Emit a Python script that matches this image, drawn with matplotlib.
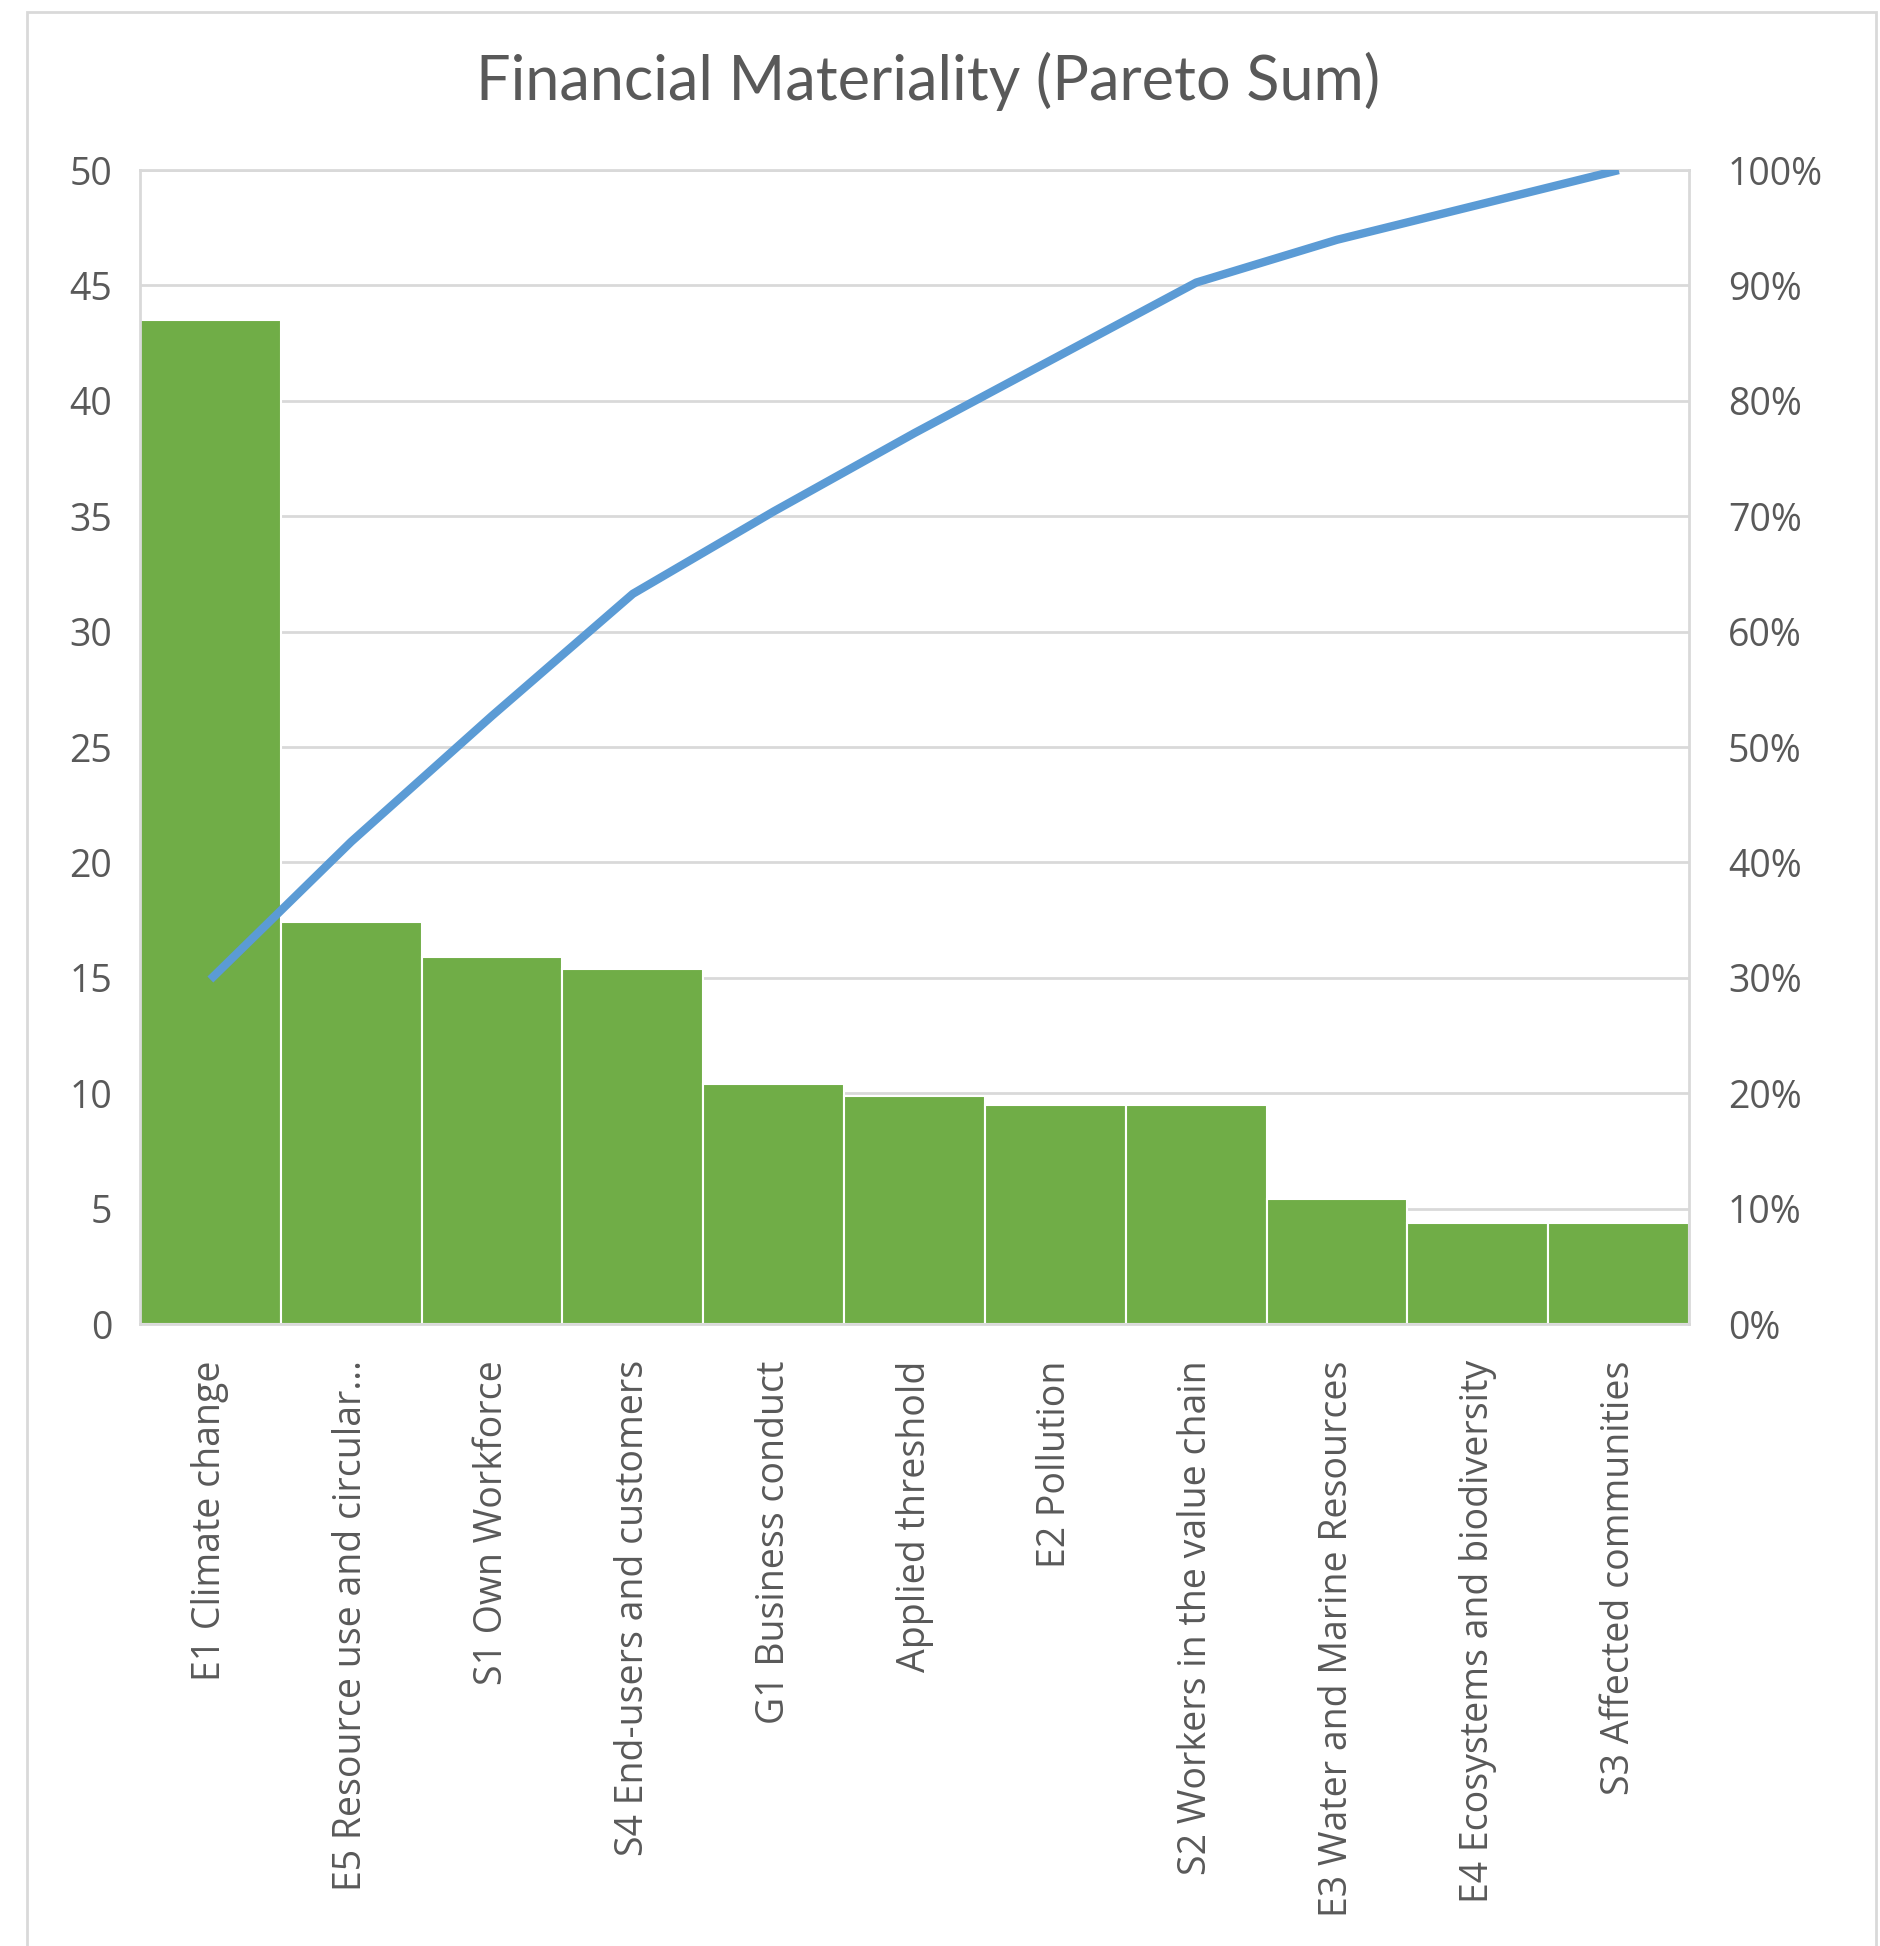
import numpy as np
import matplotlib.pyplot as plt
from matplotlib.ticker import PercentFormatter
from matplotlib.patches import Rectangle

# data
categories = ["E1 Climate change", "E5 Resource use and circular...", "S1 Own Workforce",
              "S4 End-users and customers", "G1 Business conduct", "Applied threshold",
              "E2 Pollution", "S2 Workers in the value chain", "E3 Water and Marine Resources",
              "E4 Ecosystems and biodiversity", "S3 Affected communities"]
values = [43.5, 17.4, 15.9, 15.4, 10.4, 9.9, 9.5, 9.5, 5.4, 4.4, 4.4]
left_ticks = [0, 5, 10, 15, 20, 25, 30, 35, 40, 45, 50]
right_ticks = [0, 10, 20, 30, 40, 50, 60, 70, 80, 90, 100]

cum_pct = np.cumsum(values) / np.sum(values) * 100

txt = '#595959'
plt.rcParams['font.family'] = ['Open Sans', 'DejaVu Sans']

fig = plt.figure(figsize=(18.81, 19.46), dpi=100)
ax = fig.add_axes([0.0744, 0.3196, 0.8236, 0.593])
x = np.arange(len(categories))

ax.bar(x, values, width=1.0, color='#70AD47', edgecolor='white', linewidth=1.5, zorder=2)
ax.set_xlim(-0.5, len(categories) - 0.5)
ax.set_ylim(0, 50)
ax.set_yticks(left_ticks)
ax.grid(axis='y', color='#D9D9D9', linewidth=2, zorder=0)
ax.set_axisbelow(True)
for s in ax.spines.values():
    s.set_color('#D9D9D9')
    s.set_linewidth(2)
ax.tick_params(axis='y', length=0, pad=20, labelsize=27, labelcolor=txt)
ax.set_xticks(x)
ax.set_xticklabels(categories, rotation=90, fontsize=27, color=txt, va='top')
ax.tick_params(axis='x', length=0, pad=26)

ax2 = ax.twinx()
ax2.plot(x, cum_pct, color='#5B9BD5', linewidth=6, solid_capstyle='butt', zorder=3)
ax2.set_ylim(0, 100)
ax2.set_yticks(right_ticks)
ax2.yaxis.set_major_formatter(PercentFormatter(decimals=0))
ax2.tick_params(axis='y', length=0, pad=28, labelsize=27, labelcolor=txt)
for s in ax2.spines.values():
    s.set_visible(False)

fig.text(0.4935, 0.958, "Financial Materiality (Pareto Sum)", ha='center', va='center',
         fontsize=44, color=txt, family=['Lato', 'DejaVu Sans'])

# outer chart frame
fig.patches.append(Rectangle((0.0144, -0.01), 0.983, 1.004, transform=fig.transFigure,
                             fill=False, edgecolor='#D9D9D9', linewidth=2))

fig.savefig('out.png', dpi=100)
